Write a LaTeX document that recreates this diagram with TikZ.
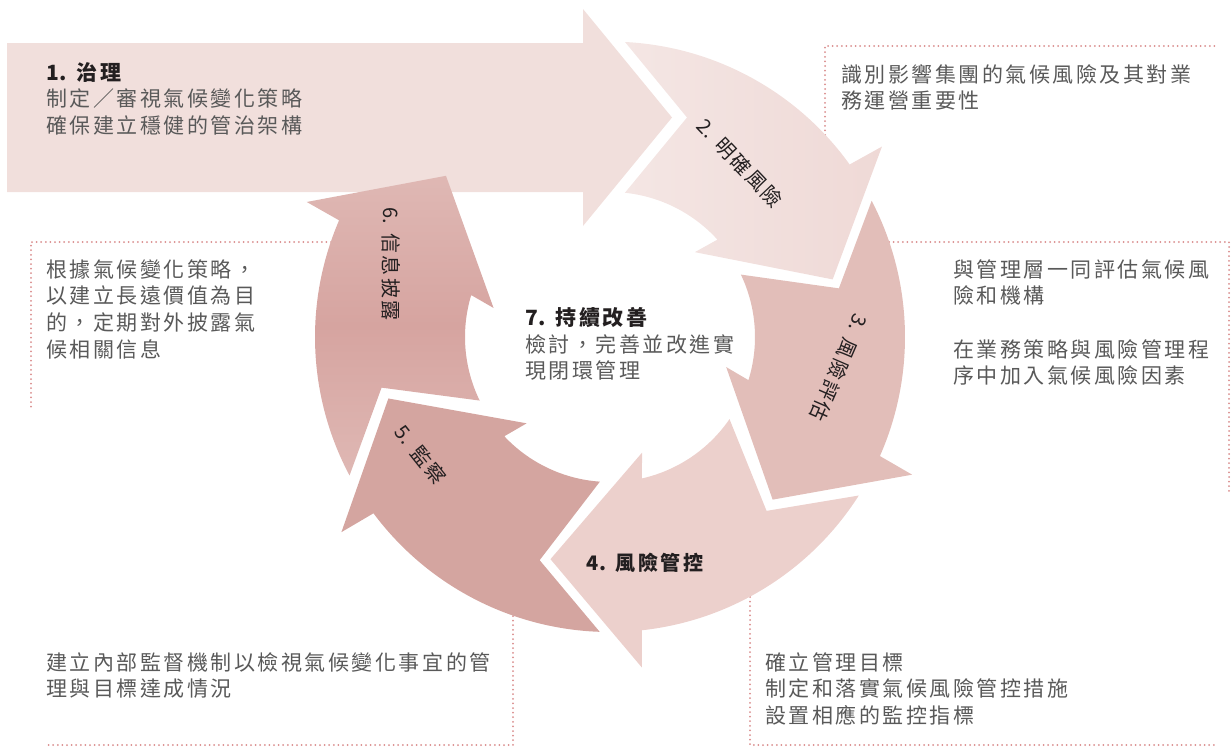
\documentclass[tikz,border=0pt]{standalone}
\usepackage{fontspec}
\usetikzlibrary{calc}
\newfontfamily\cjk[LetterSpace=12]{Noto Sans CJK TC}
\newcommand{\numtight}[1]{{\addfontfeature{LetterSpace=2}#1}}
\definecolor{aone}{HTML}{F1DFDC}
\definecolor{atwo}{HTML}{EFD9D6}
\definecolor{atwob}{HTML}{F4E6E4}
\definecolor{athree}{HTML}{E2BEB9}
\definecolor{afour}{HTML}{ECD0CC}
\definecolor{afive}{HTML}{D4A5A0}
\definecolor{asixa}{HTML}{DFB8B4}
\definecolor{asixb}{HTML}{D6A4A0}
\definecolor{dotc}{HTML}{D98C8C}
\definecolor{bodyc}{HTML}{595959}
\definecolor{darkc}{HTML}{231F20}
\tikzset{
  body/.style={anchor=north west, inner sep=0pt, align=left, text=bodyc,
    font=\cjk\fontsize{21}{26.7}\selectfont},
  lbl/.style={inner sep=0pt, text=darkc, font=\cjk\fontsize{20}{24}\selectfont},
  dotline/.style={draw=dotc, line width=2pt, line cap=round, dash pattern=on 0pt off 4.6pt},
}
\newcommand{\ringarrow}[2]{%
  \path[#2] ($(C)+(#1:295)$) arc[start angle=#1, end angle={#1+51.3}, radius=295]
   -- ($(C)+({#1+52}:332)$) -- ($(C)+({#1+72.5}:230)$) -- ($(C)+({#1+42}:120)$)
   -- ($(C)+({#1+44.8}:145)$) arc[start angle={#1+44.8}, end angle={#1+2}, radius=145]
   -- ($(C)+({#1+15.5}:234)$) -- cycle;}
\begin{document}
\begin{tikzpicture}[x=1pt,y=-1pt]
\useasboundingbox (0,0) rectangle (1231,747);
\coordinate (C) at (610,337);

% dotted frames
\draw[dotline] (825,135) -- (825,46) -- (1217,46);
\draw[dotline] (889,242) -- (1229,242) -- (1229,493);
\draw[dotline] (331,242) -- (31,242) -- (31,411);
\draw[dotline] (513,616) -- (513,745) -- (45,745);
\draw[dotline] (750,597) -- (750,745) -- (1217,745);

% arrow 1
\path[fill=aone] (7,43) -- (583,43) -- (583,9) -- (672,117.5) -- (583,226) -- (583,192) -- (7,192) -- cycle;
% arrow 2
\path[left color=atwob, right color=atwo] (625,42) arc[start angle=-87.1, end angle=-35.7, radius=295]
  -- ($(C)+(-35:332)$) -- ($(C)+(-14.5:230)$) -- ($(C)+(-45:120)$)
  -- ($(C)+(-42.2:145)$) arc[start angle=-42.2, end angle=-84.1, radius=145]
  -- (687,117.5) -- cycle;
% arrows 3-6
\ringarrow{-27.5}{fill=athree}
\ringarrow{32.5}{fill=afour}
\ringarrow{92}{fill=afive}
\ringarrow{152}{top color=asixa, bottom color=asixa, middle color=asixb}

% labels in arrows
\node[lbl, rotate=-46.6] (l2) at (740,163) {\numtight{2.} 明確風險};
\node[lbl, rotate=-113.5] (l3) at (839,368) {\numtight{3.} 風險評估};
\node[lbl, font=\cjk\bfseries\fontsize{20}{24}\selectfont] (l4) at (645,563) {\numtight{4.} 風險管控};
\node[lbl, rotate=-51.5] (l5) at (421,455) {\numtight{5.} 監察};
\node[lbl, rotate=-90] (l6) at (391,264) {\numtight{6.} 信息披露};

% text blocks
\node[body] (t1) at (46,62) {{\bfseries\color{darkc}\numtight{1.} 治理}\\制定／審視氣候變化策略\\確保建立穩健的管治架構};
\node[body] (t2) at (841,64) {識別影響集團的氣候風險及其對業\\務運營重要性};
\node[body] (t3) at (953,259) {與管理層一同評估氣候風\\險和機構\\[26.7pt]在業務策略與風險管理程\\序中加入氣候風險因素};
\node[body] (t6) at (46,259) {根據氣候變化策略，\\以建立長遠價值為目\\的，定期對外披露氣\\候相關信息};
\node[body] (t5) at (46,652) {建立內部監督機制以檢視氣候變化事宜的管\\理與目標達成情況};
\node[body] (t4) at (765,652) {確立管理目標\\制定和落實氣候風險管控措施\\設置相應的監控指標};
\node[body] (t7) at (525,307) {{\bfseries\color{darkc}\numtight{7.} 持續改善}\\檢討，完善並改進實\\現閉環管理};
\end{tikzpicture}
\end{document}
